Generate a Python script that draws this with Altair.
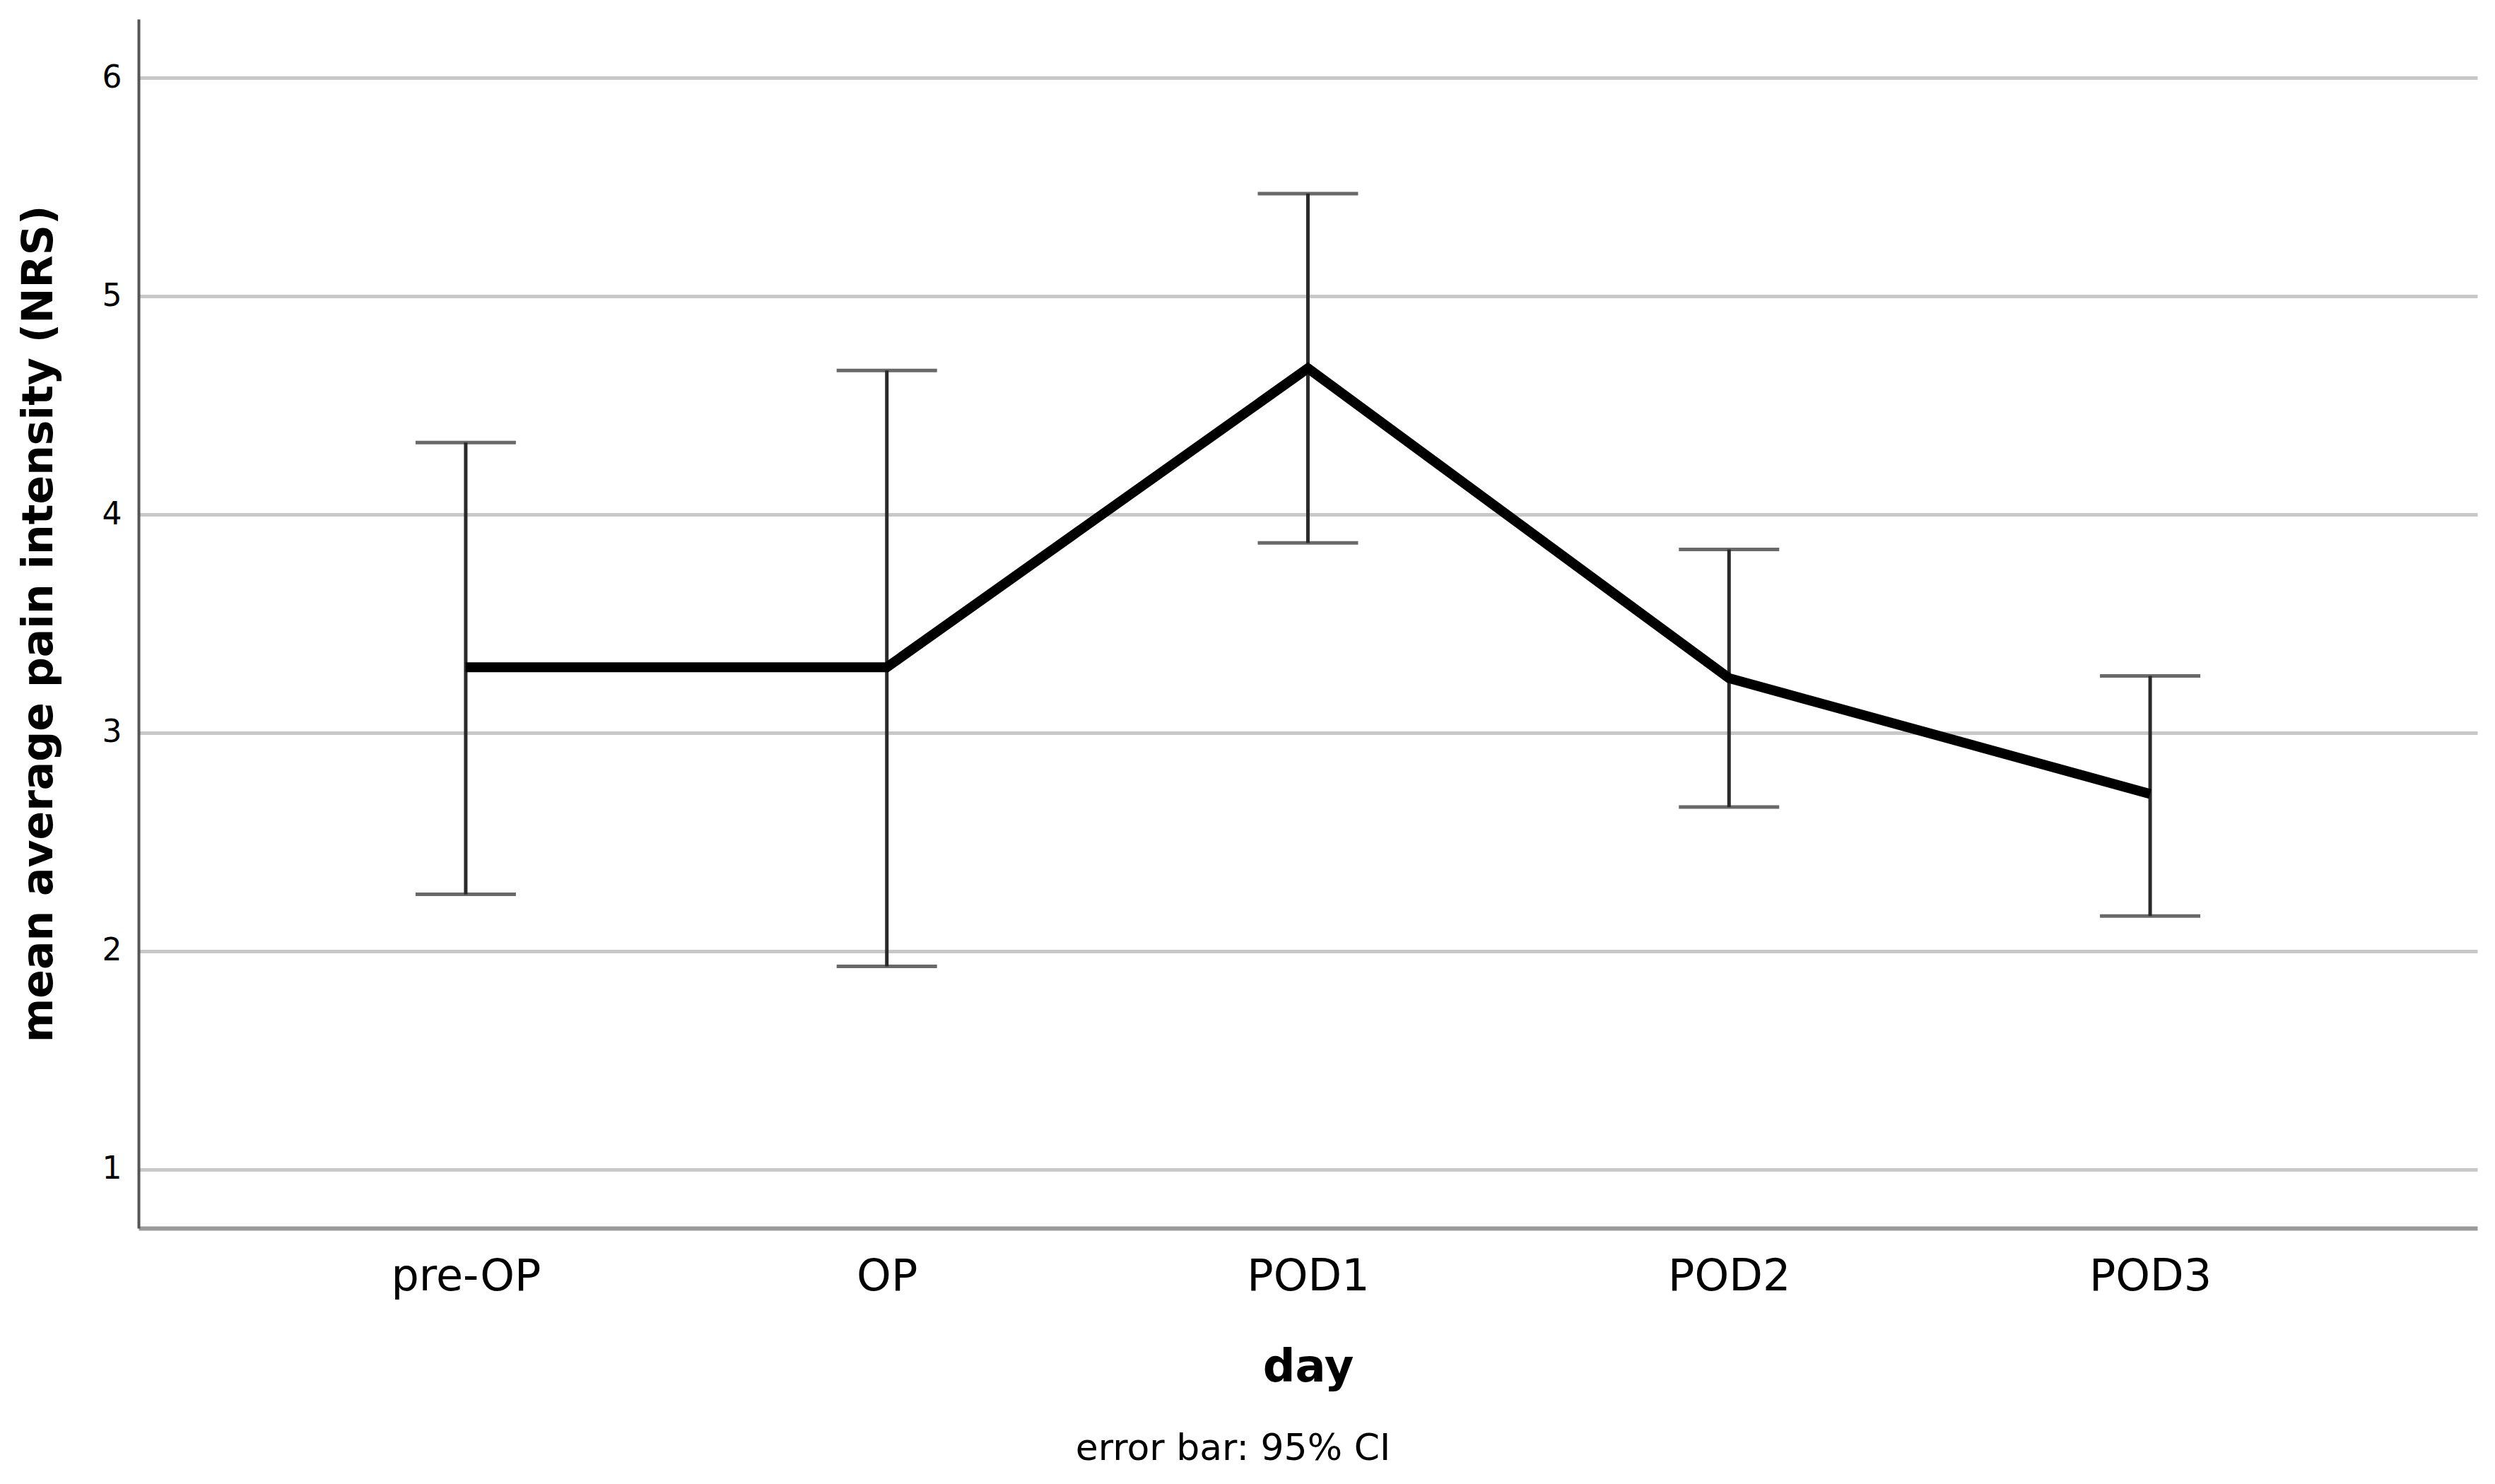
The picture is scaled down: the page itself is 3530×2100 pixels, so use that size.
import altair as alt
import pandas as pd

days = ["pre-OP", "OP", "POD1", "POD2", "POD3"]
means = [3.30, 3.30, 4.67, 3.25, 2.72]
ci_low = [2.26, 1.93, 3.87, 2.66, 2.16]
ci_high = [4.33, 4.66, 5.47, 3.84, 3.26]

df = pd.DataFrame({"day": days, "mean": means, "low": ci_low, "high": ci_high})

FONT = "DejaVu Sans"

xscale = alt.Scale(type="point", padding=0.777)
yscale = alt.Scale(domain=[0.73, 6.27], nice=False, zero=False)

x = alt.X("day:N", sort=days, scale=xscale,
          axis=alt.Axis(title="day", labelAngle=0, ticks=False, grid=False,
                        labelFontSize=62, labelPadding=38, labelLimit=600,
                        titleFontSize=64, titleFontWeight="bold", titlePadding=66,
                        domainColor="#9a9a9a", domainWidth=6, labelColor="#000"))
yaxis = alt.Axis(title="mean average pain intensity (NRS)", values=[1, 2, 3, 4, 5, 6],
                 format="d", ticks=False, grid=True, gridColor="#c8c8c8", gridWidth=5,
                 domainColor="#555555", domainWidth=4, labelFontSize=44,
                 labelPadding=24, titleFontSize=60, titleFontWeight="bold",
                 titlePadding=58, labelColor="#000")

base = alt.Chart(df)

rules = base.mark_rule(color="#2a2a2a", strokeWidth=5).encode(
    x=x, y=alt.Y("low:Q", scale=yscale, axis=yaxis), y2="high:Q")
cap_lo = base.mark_tick(color="#2a2a2a", thickness=5, size=142).encode(
    x=x, y=alt.Y("low:Q", scale=yscale))
cap_hi = base.mark_tick(color="#2a2a2a", thickness=5, size=142).encode(
    x=x, y=alt.Y("high:Q", scale=yscale))
line = base.mark_line(color="#000000", strokeWidth=14).encode(
    x=x, y=alt.Y("mean:Q", scale=yscale))

chart = alt.layer(rules, cap_lo, cap_hi, line).properties(
    width=3309, height=1711,
    autosize=alt.AutoSizeParams(type="none"),
    padding={"left": 188, "top": 19, "right": 17, "bottom": 360},
    title=alt.TitleParams("error bar: 95% CI", orient="bottom", anchor="middle",
                          fontSize=52, fontWeight="normal", dx=-106, offset=58,
                          font=FONT, color="#000"),
).configure(font=FONT).configure_view(stroke=None).configure_axis(
    labelFont=FONT, titleFont=FONT, titleColor="#000")

chart.save("out.html", embed_options={"renderer": "svg", "actions": False})
